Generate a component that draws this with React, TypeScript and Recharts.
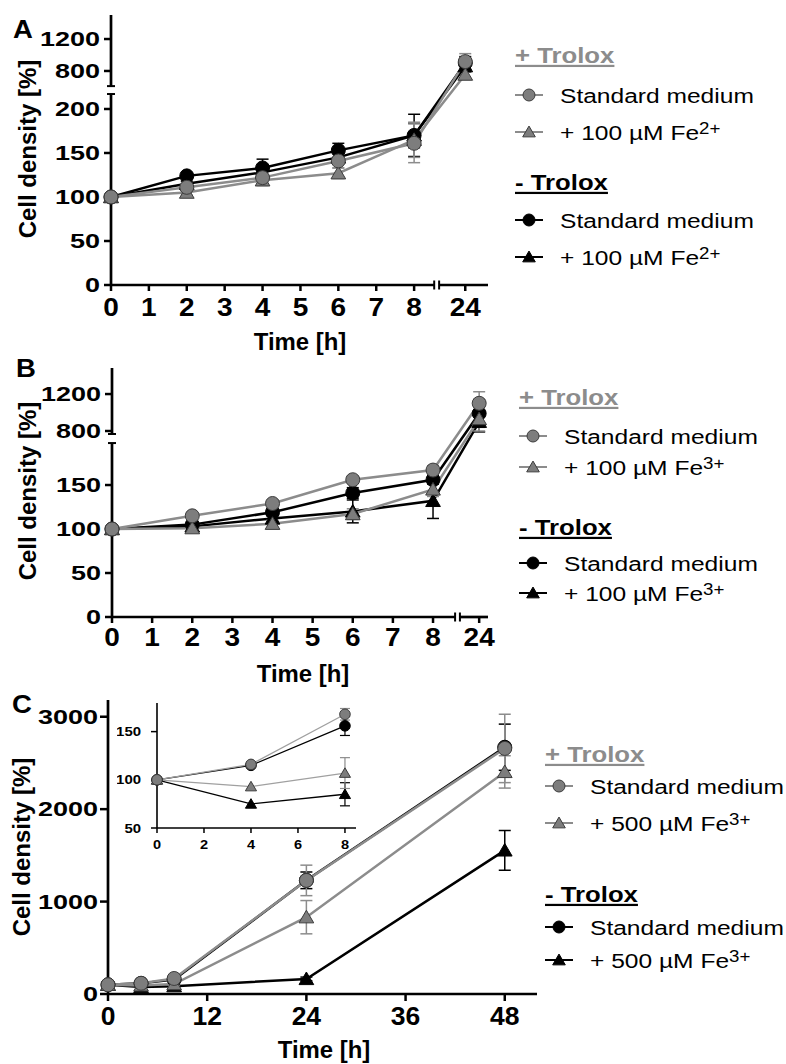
import React from 'react'
import { LineChart, Line, XAxis, YAxis, ErrorBar, ReferenceLine } from 'recharts'

const FONT = '"Liberation Sans", Arial, Helvetica, sans-serif'
const INK = '#000000'
const GREY = '#8c8c8c'
const GREY_FILL = '#7d7d7d'
const GREY_EDGE = '#3c3c3c'
const INSET_GREY = '#a0a0a0'

// Panel A: 100 µM Fe2+, 0-24 h (values in % of t=0)
const hoursA = [0, 2, 4, 6, 8, 24]
const stdPlusA = [100, 111, 122, 141, 161, 917]
const stdPlusErrA = [0, 4, 8, 8, 22, 100]
const fePlusA = [100, 105, 119, 127, 165, 755]
const fePlusErrA = [0, 3, 6, 6, 20, 60]
const stdMinusA = [100, 124, 133, 153, 170, 900]
const stdMinusErrA = [0, 3, 10, 8, 24, 80]
const feMinusA = [100, 115, 128, 145, 170, 860]
const feMinusErrA = [0, 3, 6, 5, 14, 70]
const xTicksA = [0, 1, 2, 3, 4, 5, 6, 7, 8, 24]
const yTicksA = [0, 50, 100, 150, 200, 800, 1200]

// Panel B: 100 µM Fe3+, 0-24 h
const hoursB = [0, 2, 4, 6, 8, 24]
const stdPlusB = [100, 115, 129, 156, 167, 1100]
const stdPlusErrB = [0, 3, 4, 4, 5, 125]
const fePlusB = [100, 101, 106, 117, 145, 930]
const fePlusErrB = [0, 3, 4, 6, 8, 130]
const stdMinusB = [100, 105, 119, 141, 156, 990]
const stdMinusErrB = [0, 3, 4, 6, 5, 150]
const feMinusB = [100, 103, 112, 120, 132, 900]
const feMinusErrB = [0, 2, 4, 13, 20, 110]
const xTicksB = [0, 1, 2, 3, 4, 5, 6, 7, 8, 24]
const yTicksB = [0, 50, 100, 150, 800, 1200]

// Panel C: 500 µM Fe3+, 0-48 h (inset = first three time points)
const hoursC = [0, 4, 8, 24, 48]
const stdPlusC = [100, 116, 168, 1229, 2657]
const stdPlusErrC = [0, 0, 6, 165, 370]
const fePlusC = [100, 93, 107, 831, 2403]
const fePlusErrC = [0, 0, 16, 180, 175]
const stdMinusC = [100, 115, 156, 1230, 2670]
const stdMinusErrC = [0, 0, 10, 90, 250]
const feMinusC = [100, 75, 85, 163, 1554]
const feMinusErrC = [0, 0, 12, 20, 215]
const xTicksC = [0, 12, 24, 36, 48]
const yTicksC = [0, 1000, 2000, 3000]
const xTicksInset = [0, 2, 4, 6, 8]
const yTicksInset = [50, 100, 150]

type Tone = 'grey' | 'black'
type Shape = 'circle' | 'triangle'
type Spec = { label: string; sup?: string; tone: Tone; shape: Shape; values: number[]; errors: number[] }

function makeSeries(fe: string, sup: string, sp: number[], spe: number[], fp: number[], fpe: number[], sm: number[], sme: number[], fm: number[], fme: number[]): Spec[] {
  // legend order: + Trolox (grey) first, then - Trolox (black)
  return [
    { label: 'Standard medium', tone: 'grey', shape: 'circle', values: sp, errors: spe },
    { label: fe, sup, tone: 'grey', shape: 'triangle', values: fp, errors: fpe },
    { label: 'Standard medium', tone: 'black', shape: 'circle', values: sm, errors: sme },
    { label: fe, sup, tone: 'black', shape: 'triangle', values: fm, errors: fme },
  ]
}

const seriesA = makeSeries('+ 100 µM Fe', '2+', stdPlusA, stdPlusErrA, fePlusA, fePlusErrA, stdMinusA, stdMinusErrA, feMinusA, feMinusErrA)
const seriesB = makeSeries('+ 100 µM Fe', '3+', stdPlusB, stdPlusErrB, fePlusB, fePlusErrB, stdMinusB, stdMinusErrB, feMinusB, feMinusErrB)
const seriesC = makeSeries('+ 500 µM Fe', '3+', stdPlusC, stdPlusErrC, fePlusC, fePlusErrC, stdMinusC, stdMinusErrC, feMinusC, feMinusErrC)

// black drawn first so the grey symbols sit on top, like the original
const drawOrder = [3, 2, 1, 0]

function drawMarker(shape: Shape, tone: Tone, cx: number, cy: number, r: number, key?: any) {
  const fill = tone === 'grey' ? GREY_FILL : INK
  const stroke = tone === 'grey' ? GREY_EDGE : INK
  if (shape === 'circle') {
    return <circle key={key} cx={cx} cy={cy} r={r} fill={fill} stroke={stroke} strokeWidth={1} />
  }
  const w = r * 1.05
  const h = r * 1.8
  const pts = `${cx},${cy - h * 0.55} ${cx - w},${cy + h * 0.45} ${cx + w},${cy + h * 0.45}`
  return <polygon key={key} points={pts} fill={fill} stroke={stroke} strokeWidth={1} strokeLinejoin="round" />
}

const markerFor = (s: Spec, r: number) => (p: any) => {
  const { cx, cy, index } = p
  if (cx == null || cy == null) return <g key={index} />
  return drawMarker(s.shape, s.tone, cx, cy, r, index)
}

function rowsFor(hours: number[], s: Spec, tx: (h: number) => number, ty: (v: number) => number) {
  return hours.map((h, i) => {
    const v = s.values[i]
    const e = s.errors[i]
    const y = ty(v)
    return { x: tx(h), y, err: e ? [y - ty(v - e), ty(v + e) - y] : null }
  })
}

const labelAt = (positions: number[], labels: number[]) => (value: number) => {
  let best = 0
  positions.forEach((p, i) => {
    if (Math.abs(p - value) < Math.abs(positions[best] - value)) best = i
  })
  return String(labels[best])
}

const yTick = (fmt: (v: number) => string, size: number, sx: number) => (p: any) => (
  <g key={p.index} transform={`translate(${p.x},${p.y}) scale(${sx},1)`}>
    <text textAnchor="end" dy="0.36em" fontFamily={FONT} fontWeight="bold" fontSize={size} fill={INK}>
      {fmt(p.payload.value)}
    </text>
  </g>
)

const xTick = (fmt: (v: number) => string, size: number, sx: number) => (p: any) => (
  <g key={p.index} transform={`translate(${p.x},${p.y}) scale(${sx},1)`}>
    <text textAnchor="middle" dy="0.71em" fontFamily={FONT} fontWeight="bold" fontSize={size} fill={INK}>
      {fmt(p.payload.value)}
    </text>
  </g>
)

const X_AXIS_H = 40

type Box = { left: number; top: number; width: number; height: number; plotLeft: number; plotTop: number; plotRight: number; plotBottom: number }
type Geo = { xBreak: [number, number]; x24: number; xMax: number; yLowTop: number; yUpBottom: number; y800: number; y1200: number; yMax: number }

// panel boxes (container-relative plot edges) and broken-axis layout in axis units
const boxA: Box = { left: 0, top: 0, width: 500, height: 330, plotLeft: 111, plotTop: 15, plotRight: 488, plotBottom: 285 }
const geoA: Geo = { xBreak: [8.53, 8.66], x24: 9.35, xMax: 9.95, yLowTop: 217, yUpBottom: 226, y800: 243.2, y1200: 279.5, yMax: 306.8 }
const boxB: Box = { left: 0, top: 340, width: 500, height: 350, plotLeft: 112, plotTop: 28, plotRight: 488, plotBottom: 277 }
const geoB: Geo = { xBreak: [8.55, 8.67], x24: 9.15, xMax: 9.37, yLowTop: 197.7, yUpBottom: 208, y800: 211.4, y1200: 253.4, yMax: 283 }

function BrokenPanel({ box, geo, hours, series, xTicks, yTicks, xTickGap }: { box: Box; geo: Geo; hours: number[]; series: Spec[]; xTicks: number[]; yTicks: number[]; xTickGap: number }) {
  const tx = (h: number) => (h > 8 ? geo.x24 : h)
  const ty = (v: number) => (v <= geo.yLowTop ? v : geo.y800 + ((v - 800) * (geo.y1200 - geo.y800)) / 400)
  const pxX = (box.plotRight - box.plotLeft) / geo.xMax
  const pxY = (box.plotBottom - box.plotTop) / geo.yMax
  const dx = 4 / pxX
  const dy = 4.5 / pxY
  const xPos = xTicks.map(tx)
  const yPos = yTicks.map(ty)
  const axis = { stroke: INK, strokeWidth: 2.7, ifOverflow: 'visible' as const }
  const mark = { stroke: INK, strokeWidth: 2, ifOverflow: 'visible' as const }
  return (
    <div style={{ position: 'absolute', left: box.left, top: box.top }}>
      <LineChart
        width={box.width}
        height={box.height}
        margin={{ top: box.plotTop, right: box.width - box.plotRight, bottom: box.height - box.plotBottom - X_AXIS_H, left: 0 }}
      >
        <XAxis
          type="number"
          dataKey="x"
          domain={[0, geo.xMax]}
          ticks={xPos}
          interval={0}
          axisLine={false}
          tickLine={{ stroke: INK, strokeWidth: 2.5 }}
          tickSize={6}
          tickMargin={xTickGap}
          height={X_AXIS_H}
          tick={xTick(labelAt(xPos, xTicks), 25, 1.12)}
        />
        <YAxis
          type="number"
          domain={[0, geo.yMax]}
          ticks={yPos}
          interval={0}
          axisLine={false}
          tickLine={{ stroke: INK, strokeWidth: 2.5 }}
          tickSize={7}
          tickMargin={4}
          width={box.plotLeft}
          tick={yTick(labelAt(yPos, yTicks), 20, 1.35)}
        />
        <ReferenceLine segment={[{ x: 0, y: 0 }, { x: geo.xBreak[0], y: 0 }]} {...axis} />
        <ReferenceLine segment={[{ x: geo.xBreak[1], y: 0 }, { x: geo.xMax, y: 0 }]} {...axis} />
        <ReferenceLine segment={[{ x: 0, y: 0 }, { x: 0, y: geo.yLowTop }]} {...axis} />
        <ReferenceLine segment={[{ x: 0, y: geo.yUpBottom }, { x: 0, y: geo.yMax }]} {...axis} />
        <ReferenceLine segment={[{ x: -dx, y: geo.yLowTop }, { x: dx, y: geo.yLowTop }]} {...mark} />
        <ReferenceLine segment={[{ x: -dx, y: geo.yUpBottom }, { x: dx, y: geo.yUpBottom }]} {...mark} />
        <ReferenceLine segment={[{ x: geo.xBreak[0], y: -dy }, { x: geo.xBreak[0], y: dy }]} {...mark} />
        <ReferenceLine segment={[{ x: geo.xBreak[1], y: -dy }, { x: geo.xBreak[1], y: dy }]} {...mark} />
        {drawOrder.map((i) => {
          const s = series[i]
          const color = s.tone === 'grey' ? GREY : INK
          return (
            <Line
              key={i}
              data={rowsFor(hours, s, tx, ty)}
              dataKey="y"
              stroke={color}
              strokeWidth={2.5}
              dot={markerFor(s, 7)}
              activeDot={false}
              isAnimationActive={false}
            >
              <ErrorBar dataKey="err" direction="y" width={6} stroke={color} strokeWidth={1.5} />
            </Line>
          )
        })}
      </LineChart>
    </div>
  )
}

function PanelC() {
  const id = (v: number) => v
  const xPos = xTicksC
  const yPos = yTicksC
  return (
    <div style={{ position: 'absolute', left: 0, top: 690 }}>
      <LineChart width={560} height={374} margin={{ top: 10, right: 23, bottom: 30, left: 0 }}>
        <XAxis
          type="number"
          dataKey="x"
          domain={[0, 51.9]}
          ticks={xPos}
          interval={0}
          axisLine={{ stroke: INK, strokeWidth: 2.7 }}
          tickLine={{ stroke: INK, strokeWidth: 2.5 }}
          tickSize={7}
          tickMargin={6}
          height={X_AXIS_H}
          tick={xTick(labelAt(xPos, xTicksC), 25, 1.06)}
        />
        <YAxis
          type="number"
          domain={[0, 3181]}
          ticks={yPos}
          interval={0}
          axisLine={{ stroke: INK, strokeWidth: 2.7 }}
          tickLine={{ stroke: INK, strokeWidth: 2.5 }}
          tickSize={8}
          tickMargin={2}
          width={108}
          tick={yTick(labelAt(yPos, yTicksC), 20, 1.35)}
        />
        {drawOrder.map((i) => {
          const s = seriesC[i]
          const color = s.tone === 'grey' ? GREY : INK
          return (
            <Line
              key={i}
              data={rowsFor(hoursC, s, id, id)}
              dataKey="y"
              stroke={color}
              strokeWidth={2.5}
              dot={markerFor(s, 7)}
              activeDot={false}
              isAnimationActive={false}
            >
              <ErrorBar dataKey="err" direction="y" width={6} stroke={color} strokeWidth={1.5} />
            </Line>
          )
        })}
      </LineChart>
    </div>
  )
}

function InsetC() {
  const id = (v: number) => v
  const early = hoursC.slice(0, 3)
  return (
    <div style={{ position: 'absolute', left: 117, top: 695 }}>
      <LineChart width={249} height={165} margin={{ top: 8, right: 10, bottom: 7, left: 0 }}>
        <XAxis
          type="number"
          dataKey="x"
          domain={[0, 8.47]}
          ticks={xTicksInset}
          interval={0}
          axisLine={{ stroke: INK, strokeWidth: 1.6 }}
          tickLine={{ stroke: INK, strokeWidth: 1.5 }}
          tickSize={5}
          tickMargin={7}
          height={25}
          tick={xTick(String, 13, 1.12)}
        />
        <YAxis
          type="number"
          domain={[50, 179.7]}
          ticks={yTicksInset}
          interval={0}
          axisLine={{ stroke: INK, strokeWidth: 1.6 }}
          tickLine={{ stroke: INK, strokeWidth: 1.5 }}
          tickSize={6}
          tickMargin={10}
          width={40}
          tick={yTick(String, 13, 1.15)}
        />
        {drawOrder.map((i) => {
          const s = seriesC[i]
          const color = s.tone === 'grey' ? INSET_GREY : INK
          return (
            <Line
              key={i}
              data={rowsFor(early, s, id, id)}
              dataKey="y"
              stroke={color}
              strokeWidth={1.3}
              dot={markerFor(s, 5.3)}
              activeDot={false}
              isAnimationActive={false}
            >
              <ErrorBar dataKey="err" direction="y" width={5} stroke={s.tone === 'grey' ? GREY : INK} strokeWidth={1.2} />
            </Line>
          )
        })}
      </LineChart>
    </div>
  )
}

type Notes = {
  letter: string
  letterAt: [number, number]
  yTitleAt: [number, number]
  xTitleAt: [number, number]
  legendX: number
  headers: [number, number]
  rows: number[]
  series: Spec[]
}

const notes: Notes[] = [
  { letter: 'A', letterAt: [13, 38], yTitleAt: [27.5, 149], xTitleAt: [300, 350], legendX: 515, headers: [63, 190], rows: [95, 132, 220, 257], series: seriesA },
  { letter: 'B', letterAt: [16, 377], yTitleAt: [27.5, 491], xTitleAt: [303, 682], legendX: 519, headers: [405, 535], rows: [436, 467, 563, 593], series: seriesB },
  { letter: 'C', letterAt: [12, 713], yTitleAt: [21, 847], xTitleAt: [324, 1058], legendX: 545, headers: [762, 902], rows: [786, 823, 927, 960], series: seriesC },
]

function Annotations() {
  return (
    <svg width={786} height={1064} style={{ position: 'absolute', left: 0, top: 0, pointerEvents: 'none' }}>
      {notes.map((n) => (
        <g key={n.letter} fontFamily={FONT}>
          <text transform={`translate(${n.letterAt[0]},${n.letterAt[1]}) scale(1.1,1)`} fontSize={25} fontWeight="bold" fill={INK}>
            {n.letter}
          </text>
          <text
            transform={`translate(${n.yTitleAt[0]},${n.yTitleAt[1]}) rotate(-90)`}
            textAnchor="middle"
            dominantBaseline="central"
            fontSize={24}
            fontWeight="bold"
            fill={INK}
          >
            Cell density [%]
          </text>
          <text transform={`translate(${n.xTitleAt[0]},${n.xTitleAt[1]}) scale(1.04,1)`} textAnchor="middle" fontSize={23} fontWeight="bold" fill={INK}>
            Time [h]
          </text>
          {['+ Trolox', '- Trolox'].map((h, k) => (
            <text
              key={h}
              transform={`translate(${n.legendX},${n.headers[k]}) scale(1.17,1)`}
              fontSize={22}
              fontWeight="bold"
              fill={k === 0 ? GREY : INK}
              style={{ textDecoration: 'underline' }}
            >
              {h}
            </text>
          ))}
          {n.series.map((s, i) => {
            const cy = n.rows[i]
            const color = s.tone === 'grey' ? GREY : INK
            return (
              <g key={i}>
                <line x1={n.legendX} x2={n.legendX + 28} y1={cy} y2={cy} stroke={color} strokeWidth={2} />
                {drawMarker(s.shape, s.tone, n.legendX + 14, cy, 6)}
                <text transform={`translate(${n.legendX + 45},${cy + 7.5}) scale(1.17,1)`} fontSize={21} fill={INK}>
                  {s.label}
                  {s.sup && (
                    <tspan dy={-6} fontSize={16}>
                      {s.sup}
                    </tspan>
                  )}
                </text>
              </g>
            )
          })}
        </g>
      ))}
    </svg>
  )
}

export default function App() {
  return (
    <div style={{ position: 'absolute', left: 0, top: 0, width: 786, height: 1064, background: '#ffffff', overflow: 'hidden' }}>
      <BrokenPanel box={boxA} geo={geoA} hours={hoursA} series={seriesA} xTicks={xTicksA} yTicks={yTicksA} xTickGap={7} />
      <BrokenPanel box={boxB} geo={geoB} hours={hoursB} series={seriesB} xTicks={xTicksB} yTicks={yTicksB} xTickGap={5} />
      <PanelC />
      <InsetC />
      <Annotations />
    </div>
  )
}
